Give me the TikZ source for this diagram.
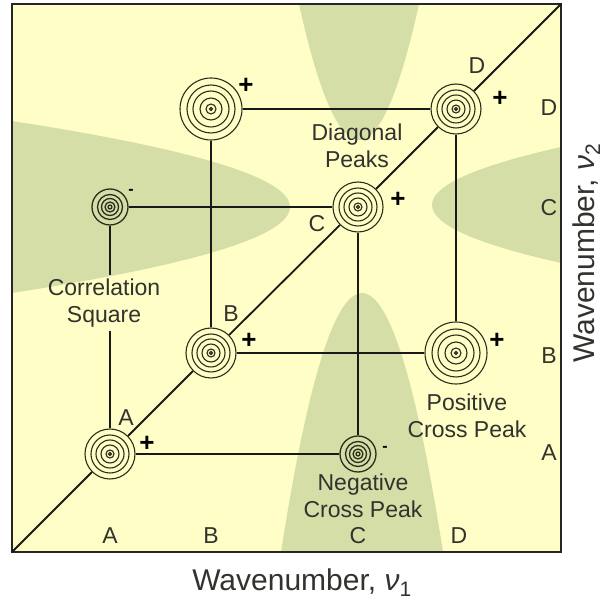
\documentclass[tikz,border=0pt]{standalone}
\usepackage{fontspec}
\setmainfont{Liberation Sans}
\usetikzlibrary{positioning}
\definecolor{paper}{RGB}{255,254,198}
\definecolor{lobe}{RGB}{214,222,168}
\definecolor{ringc}{RGB}{42,46,30}
\definecolor{ink}{RGB}{50,50,46}
\tikzset{
  % Frame and connector styles
  plotbox/.style={draw=black!85, line width=2.2pt},
  link/.style={draw=black!90, line width=1.8pt},
  % Peak styles (outer ring is the node border, inner rings drawn inside)
  pk/.style={circle, inner sep=0pt, draw=ringc, line width=1.1pt},
  bigpk/.style={pk, minimum size=62pt, path picture={
      \foreach \r in {1.5,5,11,18,24}
        \draw[ringc, line width=1.1pt] (path picture bounding box.center) circle (\r pt);}},
  diagpk/.style={pk, minimum size=50pt, path picture={
      \foreach \r in {1.5,4,9,14,19}
        \draw[ringc, line width=1.1pt] (path picture bounding box.center) circle (\r pt);}},
  smallpk/.style={pk, minimum size=36pt, line width=1.3pt, path picture={
      \foreach \r in {2,5,8.5,12.5}
        \draw[ringc, line width=1.3pt] (path picture bounding box.center) circle (\r pt);}},
  % Labels
  lbl/.style={font=\fontsize{23}{27}\selectfont, text=ink, align=center},
  axislbl/.style={font=\fontsize{30}{30}\selectfont, text=ink},
  plussign/.style={font=\fontsize{26}{26}\selectfont\bfseries, text=black, inner sep=0pt},
  minussign/.style={font=\fontsize{16}{16}\selectfont\bfseries, text=black, inner sep=0pt},
}

\begin{document}
\begin{tikzpicture}[x=1pt, y=-1pt]
  \useasboundingbox (0,0) rectangle (606,601);

  % --- PLOT AREA ---
  \fill[paper] (12,4) rectangle (561,552);
  \coordinate (sw) at (12,552);
  \coordinate (ne) at (561,4);

  % shaded lobes round peak C
  \begin{scope}
    \clip (12,4) rectangle (561,552);
    \fill[lobe] plot[domain=-60:60, samples=41] ({359+\x}, {140-136*(\x/60)^2}) -- cycle;
    \fill[lobe] plot[domain=-86:86, samples=41] ({290-278*(\x/86)^2}, {207+\x}) -- cycle;
    \fill[lobe] plot[domain=-58:58, samples=41] ({432+129*(\x/58)^2}, {205+\x}) -- cycle;
    \fill[lobe] plot[domain=-81:81, samples=41] ({362+\x}, {293+259*(\x/81)^2}) -- cycle;
  \end{scope}
  \draw[plotbox] (12,4) rectangle (561,552);

  % --- PEAKS ---
  % diagonal peaks
  \node[diagpk] (A) at (110,454) {};
  \node[diagpk] (B) at (211,353) {};
  \node[diagpk] (C) at (358,207) {};
  \node[diagpk] (D) at (456,109) {};
  % cross peaks
  \node[bigpk]   (BD) at (211,109) {};
  \node[smallpk] (AC) at (110,207) {};
  \node[bigpk]   (DB) at (456,353) {};
  \node[smallpk] (CA) at (358,454) {};

  % --- LABELS ---
  \node[lbl] (corr) at (104,303) {Correlation\\Square};
  \node[lbl] (diag) at (357,146) {Diagonal\\Peaks};
  \node[lbl] (pos)  at (467,416) {Positive\\Cross Peak};
  \node[lbl] (neg)  at (363,496) {Negative\\Cross Peak};

  \node[lbl] (dA) at (126,418) {A};
  \node[lbl] (dB) at (231,314) {B};
  \node[lbl] (dC) at (317,224) {C};
  \node[lbl] (dD) at (477,66)  {D};

  \foreach \l/\x in {A/110, B/211, C/358, D/459}
    \node[lbl] (bx-\l) at (\x,536) {\l};
  \foreach \l/\y in {A/453, B/356, C/208, D/108}
    \node[lbl] (by-\l) at (549,\y) {\l};

  % signs
  \node[plussign] (s-BD) at (246,86)  {+};
  \node[plussign] (s-D)  at (500,99)  {+};
  \node[plussign] (s-C)  at (398,200) {+};
  \node[plussign] (s-B)  at (249,341) {+};
  \node[plussign] (s-DB) at (497,341) {+};
  \node[plussign] (s-A)  at (147,444) {+};
  \node[minussign] (s-AC) at (131,192) {-};
  \node[minussign] (s-CA) at (385,449) {-};

  % --- CONNECTORS ---
  \draw[link] (BD) -- (D);
  \draw[link] (BD) -- (B);
  \draw[link] (AC) -- (C);
  \draw[link] (AC) -- (AC |- corr.north);
  \draw[link] (AC |- corr.south) -- (A);
  \draw[link] (C) -- (CA);
  \draw[link] (B) -- (DB);
  \draw[link] (D) -- (DB);
  \draw[link] (A) -- (CA);
  \draw[link] (sw) -- (A) -- (B) -- (C) -- (D) -- (ne);

  % axis titles
  \node[axislbl, anchor=base] (xlab) at (302,591) {Wavenumber, {\itshape ν}\textsubscript{1}};
  \node[axislbl, anchor=base, rotate=90] (ylab) at (594,253) {Wavenumber, {\itshape ν}\textsubscript{2}};
\end{tikzpicture}
\end{document}
